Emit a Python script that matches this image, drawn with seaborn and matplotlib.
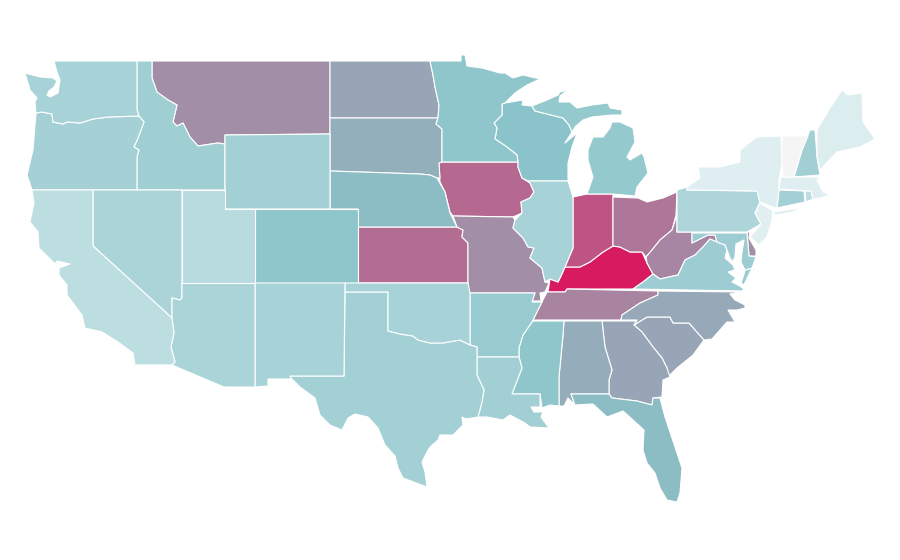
import matplotlib
matplotlib.use("Agg")
import matplotlib.pyplot as plt
from matplotlib.colors import LinearSegmentedColormap, Normalize
import seaborn as sns

# Estimated value of each state, read from the fill colours
STATES = ["KY","IN","IA","KS","OH","WV","TN","MT","MO","DE","ND","SC","GA","NC","AL","SD","NE","FL",
          "WI","MN","CO","MS","MI","AR","VA","MD","ID","LA","TX","WY","OR","CT","NH","WA","OK","IL",
          "NM","NV","AZ","PA","UT","CA","RI","NY","ME","MA","NJ","VT"]
VALUES = [100,83,77,76,73,68,69,66,66,66,59,59,59,58,57,56,52,52,
          50,48,48,48,45,43,41,41,40,39,38,38,37,38,39,36,36,36,
          36,34,34,33,28,25,25,9,10,9,8,0]

OUTLINES = {
"WA":[[(54,61),(137,61),(137,110),(139,116),(108,117),(93,119),(80,123),(67,122),(63,124),(53,122),(52,114),(42,112),(36,113),(35,102),(37,98),(30,90),(25,73),(40,77),(53,78),(57,81),(54,87),(49,91),(47,95),(50,97),(58,93),(60,80),(57,72)]],
"OR":[[(36,113),(42,112),(52,114),(53,122),(63,124),(67,122),(80,123),(93,119),(108,117),(139,116),(144,122),(138,138),(134,147),(139,150),(137,157),(137,190),(32,190),(27,175),(33,150)]],
"ID":[[(137,61),(152,61),(152,78),(157,92),(168,100),(177,105),(173,122),(177,126),(183,123),(190,137),(198,146),(218,143),(225,144),(225,190),(137,190),(137,157),(139,150),(134,147),(138,138),(144,122),(139,116),(137,110)]],
"MT":[[(152,61),(330,61),(330,134),(225,135),(225,144),(218,143),(198,146),(190,137),(183,123),(177,126),(173,122),(177,105),(168,100),(157,92),(152,78)]],
"WY":[[(225,135),(330,134),(330,209),(225,209)]],
"CA":[[(32,190),(93,190),(93,246),(172,318),(174,333),(171,347),(175,362),(172,365),(135,365),(133,353),(118,342),(102,332),(85,328),(82,315),(67,295),(67,285),(59,275),(59,268),(70,264),(57,261),(55,264),(39,248),(38,232),(30,222),(34,203)]],
"NV":[[(93,190),(182,190),(182,298),(180,300),(172,298),(172,318),(93,246)]],
"UT":[[(182,190),(225,190),(225,209),(255,209),(255,283),(182,283)]],
"CO":[[(255,209),(358,209),(358,283),(255,283)]],
"AZ":[[(182,283),(255,283),(255,387),(224,387),(172,365),(175,362),(171,347),(174,333),(172,318),(172,298),(180,300),(182,298)]],
"NM":[[(255,283),(345,283),(344,376),(290,376),(291,379),(268,379),(268,386),(255,387)]],
"TX":[[(345,292),(388,292),(388,331),(400,334),(413,336),(418,340),(430,343),(443,343),(460,340),(470,345),(477,347),(477,375),(484,390),(482,402),(478,417),(466,419),(462,417),(463,425),(453,435),(440,435),(438,440),(430,447),(427,452),(422,462),(425,472),(427,487),(403,478),(398,468),(395,456),(385,445),(378,428),(368,417),(355,414),(348,418),(342,430),(330,425),(320,415),(315,398),(300,387),(291,378),(290,376),(344,376)]],
"OK":[[(345,283),(468,283),(470,293),(470,345),(460,340),(443,343),(430,343),(418,340),(413,336),(400,334),(388,331),(388,292),(345,292)]],
"KS":[[(358,227),(457,227),(463,230),(462,237),(468,243),(468,283),(358,283)]],
"NE":[[(330,171),(420,174),(430,175),(437,178),(445,192),(450,213),(457,227),(358,227),(358,209),(330,209)]],
"SD":[[(330,118),(438,118),(436,124),(442,129),(442,162),(439,163),(440,178),(437,178),(430,175),(420,174),(330,171)]],
"ND":[[(330,61),(430,61),(433,75),(435,87),(439,105),(438,118),(330,118)]],
"MN":[[(430,61),(461,61),(461,55),(465,55),(467,66),(482,68),(500,73),(505,73),(513,78),(523,75),(540,79),(527,85),(515,93),(505,103),(502,104),(502,115),(494,123),(497,128),(495,139),(507,147),(517,155),(518,162),(442,162),(442,129),(436,124),(438,118),(439,105),(435,87),(433,75)]],
"IA":[[(442,162),(518,162),(518,167),(522,178),(530,183),(534,192),(530,198),(521,202),(522,213),(513,217),(453,216),(450,212),(445,192),(440,182),(439,163)]],
"MO":[[(453,216),(513,217),(515,220),(513,228),(523,238),(528,247),(534,248),(530,258),(542,268),(545,282),(549,283),(545,292),(540,293),(541,301),(532,301),(535,293),(468,293),(468,243),(462,237),(463,230),(457,227)]],
"AR":[[(470,293),(535,293),(532,302),(542,302),(532,322),(523,335),(519,348),(519,357),(477,357),(477,347),(470,345)]],
"LA":[[(477,357),(519,357),(522,368),(512,394),(540,394),(540,407),(531,407),(534,412),(543,412),(541,417),(549,428),(530,427),(525,423),(510,415),(503,420),(487,417),(478,417),(482,402),(484,390),(477,375)]],
"MS":[[(534,321),(564,321),(563,335),(559,377),(559,406),(550,405),(542,408),(540,394),(512,394),(522,368),(519,357),(519,348),(523,335),(532,322)]],
"AL":[[(564,321),(602,321),(605,347),(612,370),(609,380),(609,394),(571,394),(575,405),(568,398),(564,406),(559,406),(559,377),(563,335)]],
"GA":[[(602,321),(637,321),(634,325),(642,332),(653,347),(662,358),(667,368),(670,377),(663,380),(662,397),(653,398),(652,405),(637,401),(612,398),(609,394),(609,380),(612,370),(605,347)]],
"FL":[[(571,394),(609,394),(612,398),(637,401),(652,405),(653,398),(660,398),(665,417),(675,447),(682,468),(680,493),(677,502),(667,500),(660,488),(655,473),(647,463),(643,450),(644,430),(633,420),(623,411),(607,417),(593,404),(575,405)]],
"SC":[[(634,325),(647,317),(670,317),(673,323),(689,323),(704,340),(693,355),(677,368),(668,377),(667,368),(662,358),(653,347),(642,332)]],
"NC":[[(621,320),(622,315),(640,303),(658,295),(658,291),(742,292),(730,294),(735,300),(745,305),(745,308),(737,310),(728,310),(735,322),(727,322),(712,339),(704,340),(689,323),(673,323),(670,317),(647,317),(634,325),(637,320)]],
"TN":[[(533,320),(542,302),(547,292),(565,292),(567,289),(658,291),(658,295),(640,303),(622,315),(621,320)]],
"KY":[[(548,292),(550,279),(558,282),(561,276),(565,267),(580,267),(590,262),(603,252),(613,246),(620,247),(630,252),(642,252),(647,263),(653,274),(643,282),(633,289),(567,289),(565,292)]],
"IL":[[(528,181),(568,181),(573,197),(573,248),(565,267),(561,276),(558,282),(550,279),(545,282),(542,268),(530,258),(534,248),(528,247),(523,238),(513,228),(515,220),(522,213),(521,202),(530,198),(534,192),(530,183)]],
"IN":[[(573,197),(587,194),(613,194),(613,246),(603,252),(590,262),(580,267),(565,267),(573,248)]],
"OH":[[(613,197),(638,198),(647,202),(663,198),(677,192),(676,215),(672,230),(660,240),(652,250),(646,257),(642,252),(630,252),(620,247),(613,246)]],
"MI":[[(587,194),(593,177),(588,160),(588,150),(593,137),(603,137),(610,128),(612,122),(620,122),(633,128),(635,142),(627,157),(630,160),(642,153),(644,157),(648,173),(637,187),(635,196),(613,194)],
      [(532,106),(547,100),(558,95),(560,92),(568,90),(560,96),(559,102),(570,102),(577,108),(592,105),(608,103),(610,108),(622,110),(622,115),(612,115),(592,117),(583,120),(575,127),(572,132),(569,125),(563,118),(535,111)]],
"WI":[[(502,104),(505,103),(523,100),(522,105),(532,106),(535,111),(563,118),(569,125),(572,132),(565,143),(577,133),(572,147),(568,163),(568,181),(528,181),(522,178),(518,167),(518,162),(517,155),(507,147),(495,139),(497,128),(494,123),(502,115)]],
"PA":[[(677,190),(687,187),(687,190),(757,191),(760,202),(755,213),(761,224),(747,232),(677,232)]],
"NY":[[(687,190),(687,187),(700,178),(698,167),(720,167),(740,162),(740,150),(757,137),(781,136),(782,163),(779,180),(779,190),(777,208),(775,208),(760,202),(757,191)],
      [(773,212),(800,208),(793,212),(775,215)]],
"NJ":[[(760,203),(773,211),(772,220),(767,237),(759,245),(750,237),(761,224),(755,213)]],
"CT":[[(779,190),(804,191),(805,202),(777,208)]],
"RI":[[(805,191),(811,191),(813,199),(806,202)]],
"MA":[[(781,177),(820,177),(817,180),(823,192),(830,195),(820,198),(813,199),(811,191),(779,189)]],
"VT":[[(782,136),(808,136),(802,150),(794,177),(783,177),(782,163)]],
"NH":[[(810,130),(815,130),(817,157),(820,175),(794,177),(802,150)]],
"ME":[[(817,130),(830,108),(842,90),(848,95),(862,93),(863,122),(875,139),(860,147),(837,152),(820,170),(817,157)]],
"MD":[[(692,233),(747,233),(749,256),(756,257),(752,268),(745,270),(741,262),(742,252),(744,240),(736,244),(735,256),(733,262),(730,258),(727,250),(725,245),(717,242),(715,235),(708,235),(698,240),(692,243)]],
"DE":[[(747,233),(750,231),(749,238),(756,250),(756,256),(749,256)]],
"WV":[[(677,215),(677,232),(692,232),(692,243),(698,240),(708,235),(715,235),(717,242),(710,239),(703,247),(695,255),(685,260),(678,275),(660,279),(653,274),(647,263),(646,257),(652,250),(660,240),(672,230)]],
"VA":[[(660,279),(678,275),(685,260),(695,255),(703,247),(710,239),(717,242),(725,245),(727,250),(725,258),(733,265),(735,270),(728,272),(736,278),(732,282),(738,285),(743,288),(743,291),(633,289),(643,282),(653,274)],
      [(745,270),(752,268),(744,285),(741,283),(744,274)]],
}

sns.set_theme(style="white")
choropleth = LinearSegmentedColormap.from_list(
    "state_values", [(0.0, "#f5f5f6"), (0.1, "#dcedf0"), (0.5, "#8ac4c9"), (1.0, "#d81b60")])
norm = Normalize(min(VALUES), max(VALUES))

fig, ax = plt.subplots(figsize=(9, 5.6), dpi=100)
fig.subplots_adjust(0, 0, 1, 1)
for state, value in zip(STATES, VALUES):
    for ring in OUTLINES[state]:
        xs, ys = zip(*ring)
        ax.fill(xs, ys, facecolor=choropleth(norm(value)), edgecolor="white", linewidth=0.8, joinstyle="round")
ax.set_xlim(0, 900)
ax.set_ylim(560, 0)
ax.axis("off")
fig.savefig("out.png", dpi=100, facecolor="white")
